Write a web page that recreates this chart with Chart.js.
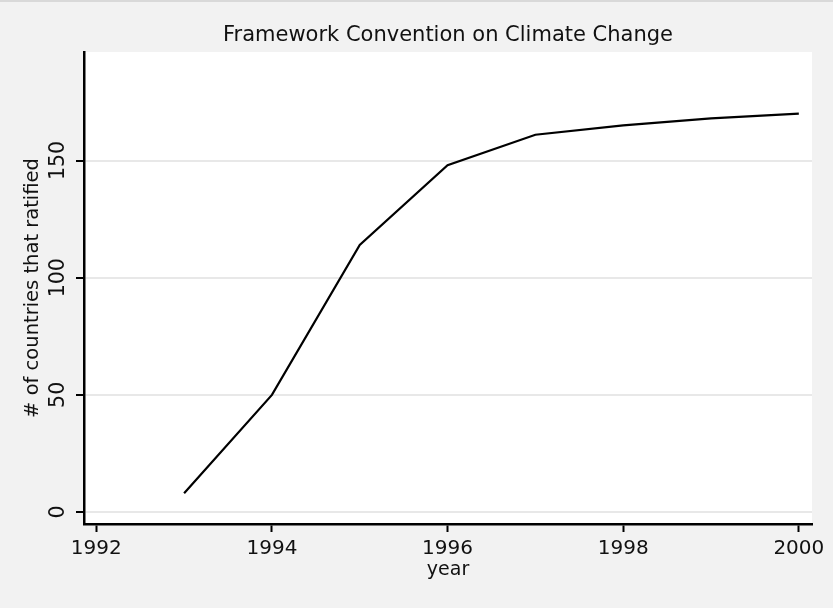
<!DOCTYPE html>
<html>
<head>
<meta charset="utf-8">
<script src="https://cdn.jsdelivr.net/npm/chart.js@4"></script>
<style>
  body { margin: 0; background: #f2f2f2; }
  #wrap { width: 833px; height: 608px; }
</style>
</head>
<body>
<div id="wrap"><canvas id="ratifyChart" width="833" height="608"></canvas></div>
<script>
  // data
  const years = [1993, 1994, 1995, 1996, 1997, 1998, 1999, 2000];
  const ratified = [8, 50, 114, 148, 161, 165, 168, 170];
  const xTicks = [1992, 1994, 1996, 1998, 2000];
  const yTicks = [0, 50, 100, 150];

  const FONT = "'DejaVu Sans', sans-serif";
  const chartTitle = 'Framework Convention on Climate Change';

  // white plot region, title over the plot region, rotated y tick labels (stata look)
  const stataBits = {
    id: 'stataBits',
    beforeDraw(chart) {
      const { ctx, chartArea } = chart;
      ctx.save();
      ctx.fillStyle = '#d9d9d9';
      ctx.fillRect(0, 0, chart.width, 2);
      ctx.fillStyle = '#ffffff';
      ctx.fillRect(chartArea.left, chartArea.top, chartArea.right - chartArea.left, chartArea.bottom - chartArea.top);
      ctx.restore();
    },
    afterDraw(chart) {
      const { ctx, chartArea } = chart;
      const y = chart.scales.y;
      ctx.save();
      ctx.fillStyle = '#111';
      ctx.textAlign = 'center';
      ctx.textBaseline = 'middle';
      ctx.font = '21px ' + FONT;
      ctx.fillText(chartTitle, (chartArea.left + chartArea.right) / 2, 36);
      ctx.font = '20.5px ' + FONT;
      yTicks.forEach(v => {
        ctx.save();
        ctx.translate(59, y.getPixelForValue(v));
        ctx.rotate(-Math.PI / 2);
        ctx.fillText(String(v), 0, 0);
        ctx.restore();
      });
      ctx.restore();
    }
  };

  new Chart(document.getElementById('ratifyChart'), {
    type: 'line',
    data: {
      datasets: [{
        data: years.map((yr, i) => ({ x: yr, y: ratified[i] })),
        borderColor: '#000',
        borderWidth: 2.2,
        pointRadius: 0,
        tension: 0,
        fill: false
      }]
    },
    options: {
      responsive: false,
      animation: false,
      layout: { padding: { left: 0, right: 21, top: 52, bottom: 0 } },
      plugins: {
        legend: { display: false },
        tooltip: { enabled: false },
        title: { display: false }
      },
      scales: {
        x: {
          type: 'linear',
          min: 1991.86,
          max: 2000.15,
          afterBuildTicks: s => { s.ticks = xTicks.map(v => ({ value: v })); },
          afterFit: s => { s.height = 84; },
          border: { color: '#000', width: 2.5 },
          grid: { drawOnChartArea: false, drawTicks: true, tickLength: 8, tickColor: '#000', tickWidth: 2 },
          ticks: {
            color: '#111',
            padding: 5,
            maxRotation: 0,
            font: { family: FONT, size: 20 },
            callback: v => String(v)
          },
          title: {
            display: true,
            text: 'year',
            color: '#111',
            font: { family: FONT, size: 19, lineHeight: 1.2 },
            padding: { top: 0, bottom: 27 }
          }
        },
        y: {
          min: -5.1,
          max: 196.3,
          afterBuildTicks: s => { s.ticks = yTicks.map(v => ({ value: v })); },
          afterFit: s => { s.width = 84; },
          border: { color: '#000', width: 2.5 },
          grid: { color: '#e8e8e8', lineWidth: 2, drawTicks: true, tickLength: 8, tickColor: '#000', tickWidth: 2 },
          ticks: { display: false },
          title: {
            display: true,
            text: '# of countries that ratified',
            color: '#111',
            font: { family: FONT, size: 19.5, lineHeight: 1.2 },
            padding: { top: 21, bottom: 0 }
          }
        }
      }
    },
    plugins: [stataBits]
  });
</script>
</body>
</html>
